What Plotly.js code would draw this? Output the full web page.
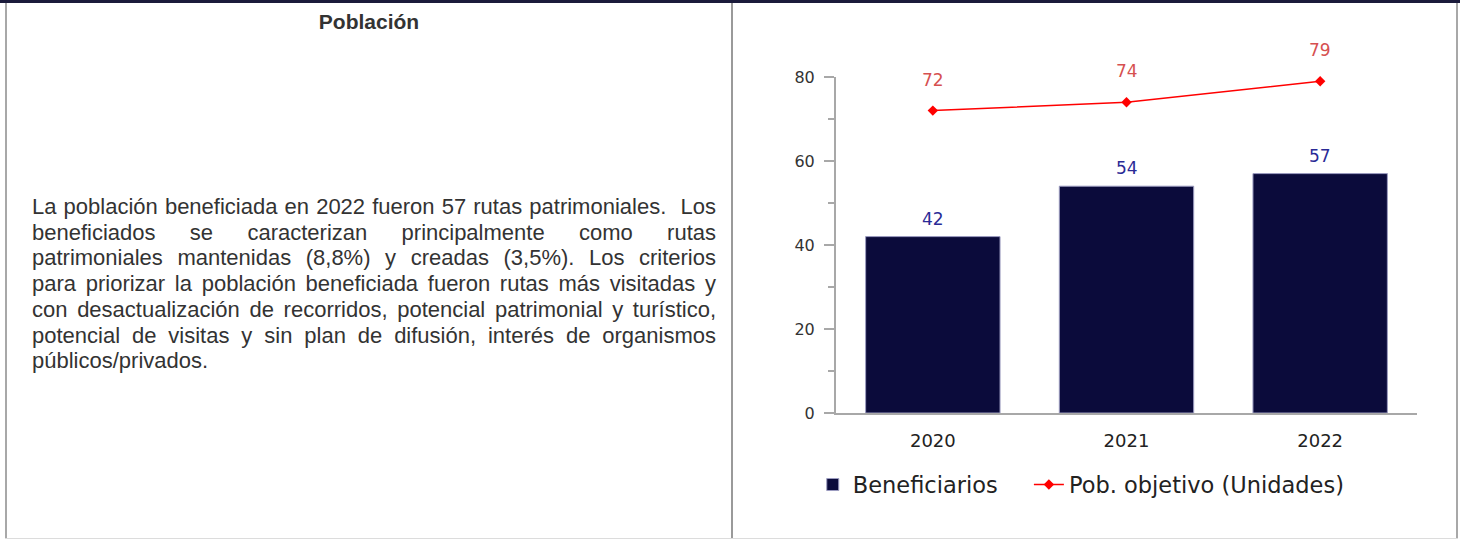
<!DOCTYPE html>
<html><head><meta charset="utf-8">
<script src="https://cdn.plot.ly/plotly-3.0.1.min.js"></script>
<style>
html,body{margin:0;padding:0;width:1460px;height:539px;overflow:hidden;background:#fff;}
.b{position:absolute;}
#topbar{left:0;top:0;width:1460px;height:3px;background:#1b1b3b;}
#lb{left:5px;top:3px;width:2px;height:536px;background:#a8a8a8;}
#mb{left:731px;top:3px;width:2px;height:536px;background:#9a9a9a;}
#rb{left:1456px;top:3px;width:2px;height:536px;background:#a8a8a8;}
#bb{left:5px;top:538px;width:1453px;height:1px;background:#dcdcdc;}
#head{left:7px;top:10px;width:724px;text-align:center;font:bold 21px "Liberation Sans",Arial,sans-serif;line-height:24px;color:#333;}
#body{left:32px;top:194px;width:684px;font:22px "Liberation Sans",Arial,sans-serif;line-height:25.7px;color:#333;}
#body div{text-align:justify;text-align-last:justify;white-space:nowrap;}
#body div.last{text-align:left;text-align-last:left;}
#chart{position:absolute;left:733px;top:3px;width:723px;height:535px;}
</style></head>
<body>
<div class="b" id="topbar"></div>
<div class="b" id="lb"></div>
<div class="b" id="mb"></div>
<div class="b" id="rb"></div>
<div class="b" id="bb"></div>
<div class="b" id="head">Población</div>
<div class="b" id="body">
<div>La población beneficiada en 2022 fueron 57 rutas patrimoniales. &nbsp;Los</div>
<div>beneficiados se caracterizan principalmente como rutas</div>
<div>patrimoniales mantenidas (8,8%) y creadas (3,5%). Los criterios</div>
<div>para priorizar la población beneficiada fueron rutas más visitadas y</div>
<div>con desactualización de recorridos, potencial patrimonial y turístico,</div>
<div>potencial de visitas y sin plan de difusión, interés de organismos</div>
<div class="last">públicos/privados.</div>
</div>
<div id="chart"></div>
<script>
const years = ['2020', '2021', '2022'];
const beneficiarios = [42, 54, 57];
const pobObjetivo = [72, 74, 79];
const yTicks = [0, 20, 40, 60, 80];

const font = 'DejaVu Sans, sans-serif';
const traces = [
  {type: 'bar', name: 'Beneficiarios', x: years, y: beneficiarios, legend: 'legend',
   marker: {color: '#0b0b3b', line: {color: '#9c9cc0', width: 1}}, hoverinfo: 'x+y'},
  {type: 'scatter', mode: 'lines+markers', name: 'Pob. objetivo (Unidades)', x: years, y: pobObjetivo, legend: 'legend2',
   line: {color: '#ff0000', width: 1.5}, marker: {color: '#ff0000', symbol: 'diamond', size: 8}, cliponaxis: false}
];
const annotations = [];
years.forEach((yr, i) => {
  annotations.push({xref: 'x', yref: 'y', x: i, y: beneficiarios[i], text: String(beneficiarios[i]), showarrow: false,
    yanchor: 'bottom', yshift: 6, font: {family: font, size: 17, color: '#2a2a96'}});
  annotations.push({xref: 'x', yref: 'y', x: i, y: pobObjetivo[i], text: String(pobObjetivo[i]), showarrow: false,
    yanchor: 'bottom', yshift: 19, font: {family: font, size: 17, color: '#d65050'}});
});
const legendFont = {family: font, size: 22.5, color: '#222'};
const layout = {
  width: 723, height: 535,
  margin: {l: 103, r: 39, t: 74, b: 125, pad: 0},
  paper_bgcolor: '#fff', plot_bgcolor: '#fff',
  font: {family: font, size: 16, color: '#333'},
  bargap: 0.306,
  showlegend: true,
  legend: {orientation: 'h', x: -0.04, xanchor: 'left', y: -0.214, yanchor: 'middle', font: legendFont},
  legend2: {orientation: 'h', x: 0.332, xanchor: 'left', y: -0.214, yanchor: 'middle', font: legendFont},
  xaxis: {type: 'category', range: [-0.5, 2.5], showline: true, linecolor: '#a8a8a8', linewidth: 2,
    ticks: '', showgrid: false, zeroline: false, ticklabelstandoff: 10,
    tickfont: {family: font, size: 18, color: '#222'}, fixedrange: true},
  yaxis: {range: [0, 80], tickvals: yTicks, showline: true, linecolor: '#a8a8a8', linewidth: 2,
    ticks: 'outside', ticklen: 10, tickwidth: 2, tickcolor: '#a8a8a8', showgrid: false, zeroline: false,
    ticklabelstandoff: 6, tickfont: {family: font, size: 16, color: '#333'},
    minor: {dtick: 10, ticks: 'outside', ticklen: 6, tickwidth: 1.5, tickcolor: '#a8a8a8', showgrid: false},
    fixedrange: true},
  annotations: annotations
};
Plotly.newPlot('chart', traces, layout, {displayModeBar: false, staticPlot: true});
</script>
</body></html>
